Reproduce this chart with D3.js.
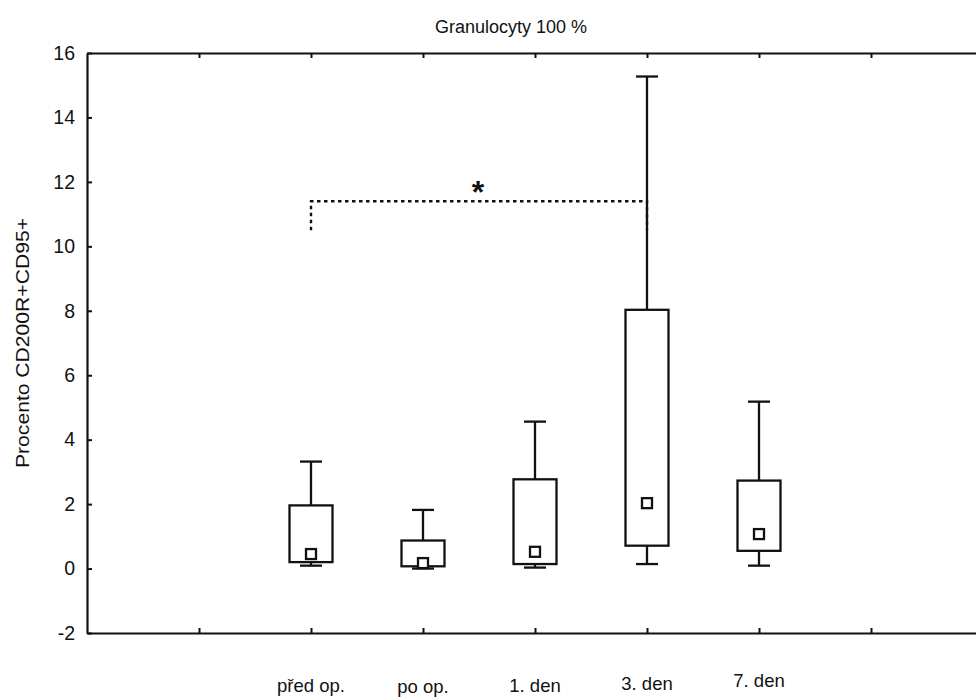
<!DOCTYPE html>
<html>
<head>
<meta charset="utf-8">
<script src="https://cdn.jsdelivr.net/npm/d3@7"></script>
<style>
  html, body { margin: 0; padding: 0; background: #fff; }
  svg { display: block; font-family: "Liberation Sans", Arial, sans-serif; }
</style>
</head>
<body>
<svg id="chart" width="976" height="698"></svg>
<script>
// ---- data ----
const categories   = ["před op.", "po op.", "1. den", "3. den", "7. den"];
const positions    = [2, 3, 4, 5, 6];
const whiskerLow   = [0.09, 0.0, 0.03, 0.14, 0.09];
const q1           = [0.20, 0.07, 0.14, 0.71, 0.55];
const median       = [0.45, 0.17, 0.52, 2.03, 1.07];
const q3           = [1.96, 0.87, 2.77, 8.03, 2.73];
const whiskerHigh  = [3.32, 1.82, 4.56, 15.27, 5.18];
const yTicks       = [-2, 0, 2, 4, 6, 8, 10, 12, 14, 16];
const xTicks       = [1, 2, 3, 4, 5, 6, 7];
const bracketFrom  = 2, bracketTo = 5, bracketTop = 11.4, bracketLow = 10.5;
const title = "Granulocyty 100 %";
const yLabel = "Procento CD200R+CD95+";

// ---- layout ----
const svg = d3.select("#chart");
const x = d3.scaleLinear().domain([0, 8]).range([87, 983]);
const y = d3.scaleLinear().domain([-2, 16]).range([633, 53]);
const ink = "#111";
const labelNudge = [0, 1, 0, -2, -5];

// frame axes
const gl = svg.append("g").attr("transform", `translate(${x(0)},0)`)
  .call(d3.axisLeft(y).tickValues(yTicks).tickSizeInner(-5).tickSizeOuter(0).tickPadding(12)
    .tickFormat(d => String(d)));
const gb = svg.append("g").attr("transform", `translate(0,${y(-2)})`)
  .call(d3.axisBottom(x).tickValues(xTicks).tickSizeInner(-5).tickSizeOuter(0).tickFormat(""));
const gt = svg.append("g").attr("transform", `translate(0,${y(16)})`)
  .call(d3.axisTop(x).tickValues(xTicks).tickSizeInner(-5).tickSizeOuter(0).tickFormat(""));
[gl, gb, gt].forEach(g => {
  g.attr("font-family", null).attr("font-size", null);
  g.select(".domain").attr("stroke", ink).attr("stroke-width", 2.2);
  g.selectAll(".tick line").attr("stroke", ink).attr("stroke-width", 2);
});
gl.selectAll(".tick text").style("font-size", "19.5px").attr("fill", ink);

// title
svg.append("text").attr("x", 511).attr("y", 33).attr("text-anchor", "middle")
  .style("font-size", "18px").attr("fill", ink).text(title);

// y label
svg.append("text").attr("transform", `translate(29,${y(7)}) rotate(-90)`)
  .attr("text-anchor", "middle").style("font-size", "19px").attr("fill", ink)
  .attr("textLength", 250).attr("lengthAdjust", "spacingAndGlyphs").text(yLabel);

// x labels
svg.append("g").selectAll("text").data(categories).join("text")
  .attr("x", (d, i) => x(positions[i]))
  .attr("y", (d, i) => 692 + labelNudge[i])
  .attr("text-anchor", "middle").style("font-size", "18.5px").attr("fill", ink)
  .text(d => d);

// boxes
const boxW = 43, capW = 22, medS = 10;
const boxes = svg.append("g").attr("stroke", ink).attr("stroke-width", 2.3).attr("fill", "none");
categories.forEach((c, i) => {
  const cx = x(positions[i]);
  const g = boxes.append("g");
  g.append("line").attr("x1", cx).attr("x2", cx).attr("y1", y(q3[i])).attr("y2", y(whiskerHigh[i]));
  g.append("line").attr("x1", cx - capW / 2).attr("x2", cx + capW / 2)
    .attr("y1", y(whiskerHigh[i])).attr("y2", y(whiskerHigh[i]));
  g.append("line").attr("x1", cx).attr("x2", cx).attr("y1", y(q1[i])).attr("y2", y(whiskerLow[i]));
  g.append("line").attr("x1", cx - capW / 2).attr("x2", cx + capW / 2)
    .attr("y1", y(whiskerLow[i])).attr("y2", y(whiskerLow[i]));
  g.append("rect").attr("x", cx - boxW / 2).attr("width", boxW)
    .attr("y", y(q3[i])).attr("height", y(q1[i]) - y(q3[i])).attr("fill", "none");
  g.append("rect").attr("x", cx - medS / 2).attr("y", y(median[i]) - medS / 2)
    .attr("width", medS).attr("height", medS).attr("fill", "#fff");
});

// significance bracket
svg.append("path")
  .attr("d", d3.line()([
    [x(bracketFrom), y(bracketLow)], [x(bracketFrom), y(bracketTop)],
    [x(bracketTo), y(bracketTop)], [x(bracketTo), y(bracketLow)]
  ]))
  .attr("fill", "none").attr("stroke", ink).attr("stroke-width", 2.4)
  .attr("stroke-dasharray", "3.5,3.5");
svg.append("text").attr("x", (x(bracketFrom) + x(bracketTo)) / 2 - 1).attr("y", y(bracketTop) + 2)
  .attr("text-anchor", "middle").style("font-size", "32px").style("font-weight", "bold")
  .attr("fill", ink).text("*");
</script>
</body>
</html>
